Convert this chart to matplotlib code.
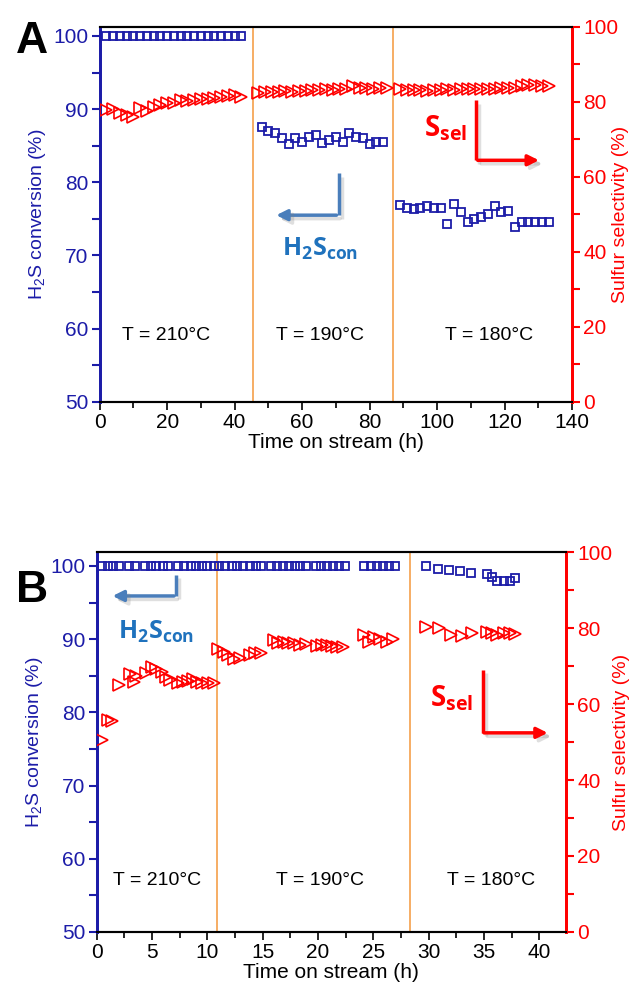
import numpy as np
import matplotlib.pyplot as plt
import matplotlib.patheffects as pe
from matplotlib.ticker import MultipleLocator

plt.rcParams['font.family'] = ['Liberation Sans', 'DejaVu Sans']
plt.rcParams['mathtext.fontset'] = 'custom'
plt.rcParams['mathtext.rm'] = 'Liberation Sans'
plt.rcParams['mathtext.it'] = 'Liberation Sans'
plt.rcParams['mathtext.bf'] = 'Open Sans:bold'

# ---- panel A data ----
a_conv_t = list(range(2, 43, 2)) + list(range(48, 85, 2)) + list(range(89, 134, 2))
a_conv = ([100.0] * 21 +
          [87.5, 87.0, 86.7, 86.1, 85.2, 86.1, 85.5, 86.2, 86.4, 85.4,
           85.8, 86.2, 85.5, 86.7, 86.2, 86.0, 85.2, 85.5, 85.5] +
          [76.9, 76.5, 76.4, 76.5, 76.7, 76.5, 76.5, 74.3, 77.0, 75.9,
           74.6, 75.0, 75.3, 75.7, 76.7, 75.9, 76.1, 73.9, 74.6, 74.6,
           74.6, 74.6, 74.6])
a_sel_t = list(range(2, 43, 2)) + list(range(47, 86, 2)) + list(range(89, 134, 2))
a_sel = ([77.8, 78.0, 77.1, 76.5, 76.0, 78.3, 77.6, 78.5, 79.1, 79.6,
          79.8, 80.5, 80.3, 80.5, 80.7, 80.7, 80.9, 81.2, 81.6, 81.7, 81.2] +
         [82.4, 82.5, 82.6, 82.5, 82.8, 82.7, 83.0, 82.9, 83.1, 83.2,
          83.3, 83.2, 83.4, 83.3, 84.3, 83.6, 83.6, 83.5, 83.6, 83.6] +
         [83.3, 83.2, 83.1, 83.2, 83.0, 83.1, 83.2, 83.3, 83.2, 83.4,
          83.3, 83.4, 83.5, 83.4, 83.5, 83.6, 83.6, 83.8, 84.2, 84.6,
          84.4, 84.3, 84.2])
a_lines = [45.5, 87.0]
a_temps = ['T = 210°C', 'T = 190°C', 'T = 180°C']
a_temp_x = [19.7, 65.4, 115.3]

# ---- panel B data ----
b_conv_t = [0.5, 1.0, 1.5, 2.0,
            2.9, 3.45,
            4.4, 4.9, 5.4, 6.0, 6.5,
            7.4, 7.9, 8.5, 9.0, 9.5, 10.0, 10.6, 11.1, 11.6, 12.2, 12.7, 13.2,
            13.9, 14.4, 14.9,
            15.8, 16.3, 16.8, 17.4, 17.9, 18.4, 18.9,
            19.8, 20.3, 20.8, 21.4, 21.9, 22.4,
            24.2, 24.8, 25.3, 25.9, 26.4, 27.0,
            29.8, 30.8, 31.8, 32.8, 33.8,
            35.3, 35.7, 36.2, 36.8, 37.3, 37.8]
b_conv = [100.0] * 45 + [100.0, 99.6, 99.4, 99.35, 99.1,
                         98.9, 98.5, 97.9, 98.0, 98.0, 98.3]
b_sel_t = [0.5, 1.0, 1.4, 2.0, 3.0, 3.4, 3.6, 4.5, 5.0, 5.4, 5.9, 6.3, 6.6,
           7.4, 7.8, 8.3, 8.7, 9.1, 9.5, 10.1, 10.6,
           11.0, 11.5, 11.9, 12.4, 13.0, 13.9, 14.3, 14.9,
           16.0, 16.4, 16.9, 17.3, 17.8, 18.4, 18.9,
           19.9, 20.4, 20.8, 21.3, 21.7, 22.3,
           24.2, 24.6, 25.1, 25.6, 26.2, 26.8,
           29.8, 30.9, 32.0, 33.0, 33.9, 35.3, 35.7, 36.2, 36.8, 37.3, 37.8]
b_sel = [50.5, 55.8, 55.6, 65.0, 68.0, 65.9, 67.5, 68.2, 69.8, 69.1, 68.5, 67.2, 66.3,
         65.6, 65.9, 66.1, 66.5, 65.9, 65.6, 65.6, 65.6,
         74.6, 73.8, 72.9, 71.8, 72.0, 72.9, 73.3, 73.5,
         76.8, 76.1, 76.4, 76.1, 76.1, 75.5, 75.8,
         75.3, 75.5, 75.5, 75.3, 75.1, 74.9,
         78.2, 76.4, 77.7, 77.0, 76.4, 77.0,
         80.4, 80.1, 78.2, 78.0, 78.6, 78.9, 78.7, 78.2, 78.6, 78.7, 78.4]
b_lines = [10.9, 28.3]
b_temps = ['T = 210°C', 'T = 190°C', 'T = 180°C']
b_temp_x = [5.5, 20.2, 35.6]

BLUE = '#1c1ca8'
RED = '#ff0000'
ORANGE = '#f5a04a'
ARROW_BLUE = '#4a7ebb'
TEXT_BLUE = '#1f72bd'
shadow = [pe.SimpleLineShadow(offset=(2.5, -2.5), alpha=0.25, shadow_color='gray'), pe.Normal()]


def make_panel(rect, conv_t, conv, sel_t, sel, lines, temps, temp_x, temp_y,
               xlim, ylim, xmaj, xmin, letter, letter_y, rlab_x):
    ax = fig.add_axes(rect)
    ax2 = ax.twinx()
    ax.plot(conv_t, conv, ls='none', marker='s', ms=5.5, mfc='none', mec=BLUE, mew=1.3, zorder=3)
    ax2.plot(sel_t, sel, ls='none', marker='>', ms=8, mfc='none', mec=RED, mew=1.2, zorder=3)
    for x in lines:
        ax.axvline(x, color=ORANGE, lw=1.2, zorder=1)
    for t, x in zip(temps, temp_x):
        ax.text(x, temp_y, t, ha='center', va='center', fontsize=14)
    ax.set_xlim(*xlim)
    ax.set_ylim(*ylim)
    ax2.set_ylim(0, 100)
    ax.xaxis.set_major_locator(MultipleLocator(xmaj))
    ax.xaxis.set_minor_locator(MultipleLocator(xmin))
    ax.yaxis.set_major_locator(MultipleLocator(10))
    ax.yaxis.set_minor_locator(MultipleLocator(5))
    ax2.yaxis.set_major_locator(MultipleLocator(20))
    ax2.yaxis.set_minor_locator(MultipleLocator(10))
    ax.tick_params(axis='x', which='major', length=6, width=1.2, labelsize=15, pad=2)
    ax.tick_params(axis='x', which='minor', length=4, width=1.2)
    ax.tick_params(axis='y', which='both', colors=BLUE, labelsize=15, width=1.5, length=6, pad=2)
    ax2.tick_params(axis='y', which='both', colors=RED, labelsize=15, width=1.5, length=6, pad=2)
    for a in (ax, ax2):
        a.spines['left'].set_color(BLUE)
        a.spines['right'].set_color(RED)
        a.spines['left'].set_linewidth(2)
        a.spines['right'].set_linewidth(2)
        a.spines['top'].set_linewidth(1.5)
        a.spines['bottom'].set_linewidth(1.5)
    ax.set_ylabel('H$_2$S conversion (%)', color=BLUE, fontsize=14, labelpad=4)
    ax2.set_ylabel('Sulfur selectivity (%)', color=RED, fontsize=14)
    ax2.yaxis.set_label_coords(rlab_x, 0.5)
    ax.set_xlabel('Time on stream (h)', fontsize=15, labelpad=1)
    fig.text(0.025, letter_y, letter, fontsize=32, fontweight='bold', va='center')
    return ax


fig = plt.figure(figsize=(6.35, 9.92), dpi=100)

axA = make_panel([0.157, 0.595, 0.744, 0.378], a_conv_t, a_conv, a_sel_t, a_sel,
                 a_lines, a_temps, a_temp_x, 59.0, (0, 140), (50, 101.25), 20, 10, 'A', 0.958, 1.085)
axA.plot([111.4, 111.4], [91.2, 83.0], color=RED, lw=2.5, solid_capstyle='butt', path_effects=shadow)
axA.annotate('', xy=(131, 83.0), xytext=(111.2, 83.0),
             arrowprops=dict(arrowstyle='-|>', color=RED, lw=2.5, mutation_scale=16,
                             path_effects=shadow))
axA.text(102.6, 87.4, r'$\mathbf{S_{sel}}$', color=RED, fontsize=20, ha='center', va='center')
axA.plot([70.8, 70.8], [81.2, 75.5], color=ARROW_BLUE, lw=2.5, solid_capstyle='butt', path_effects=shadow)
axA.annotate('', xy=(51.5, 75.5), xytext=(71.0, 75.5),
             arrowprops=dict(arrowstyle='-|>', color=ARROW_BLUE, lw=2.5, mutation_scale=16,
                             path_effects=shadow))
axA.text(65.2, 70.9, r'$\mathbf{H_{2}S_{con}}$', color=TEXT_BLUE, fontsize=18, ha='center', va='center')

axB = make_panel([0.152, 0.0605, 0.7393, 0.383], b_conv_t, b_conv, b_sel_t, b_sel,
                 b_lines, b_temps, b_temp_x, 57.1, (0, 42.4), (50, 101.9), 5, 2.5, 'B', 0.405, 1.1)
axB.plot([34.9, 34.9], [85.8, 77.2], color=RED, lw=2.5, solid_capstyle='butt', path_effects=shadow)
axB.annotate('', xy=(41.0, 77.2), xytext=(34.75, 77.2),
             arrowprops=dict(arrowstyle='-|>', color=RED, lw=2.5, mutation_scale=16,
                             path_effects=shadow))
axB.text(32.1, 82.0, r'$\mathbf{S_{sel}}$', color=RED, fontsize=20, ha='center', va='center')
axB.plot([7.18, 7.18], [98.8, 95.9], color=ARROW_BLUE, lw=2.5, solid_capstyle='butt', path_effects=shadow)
axB.annotate('', xy=(1.2, 95.9), xytext=(7.25, 95.9),
             arrowprops=dict(arrowstyle='-|>', color=ARROW_BLUE, lw=2.5, mutation_scale=16,
                             path_effects=shadow))
axB.text(5.4, 91.0, r'$\mathbf{H_{2}S_{con}}$', color=TEXT_BLUE, fontsize=18, ha='center', va='center')

fig.savefig('out.png', dpi=100)
